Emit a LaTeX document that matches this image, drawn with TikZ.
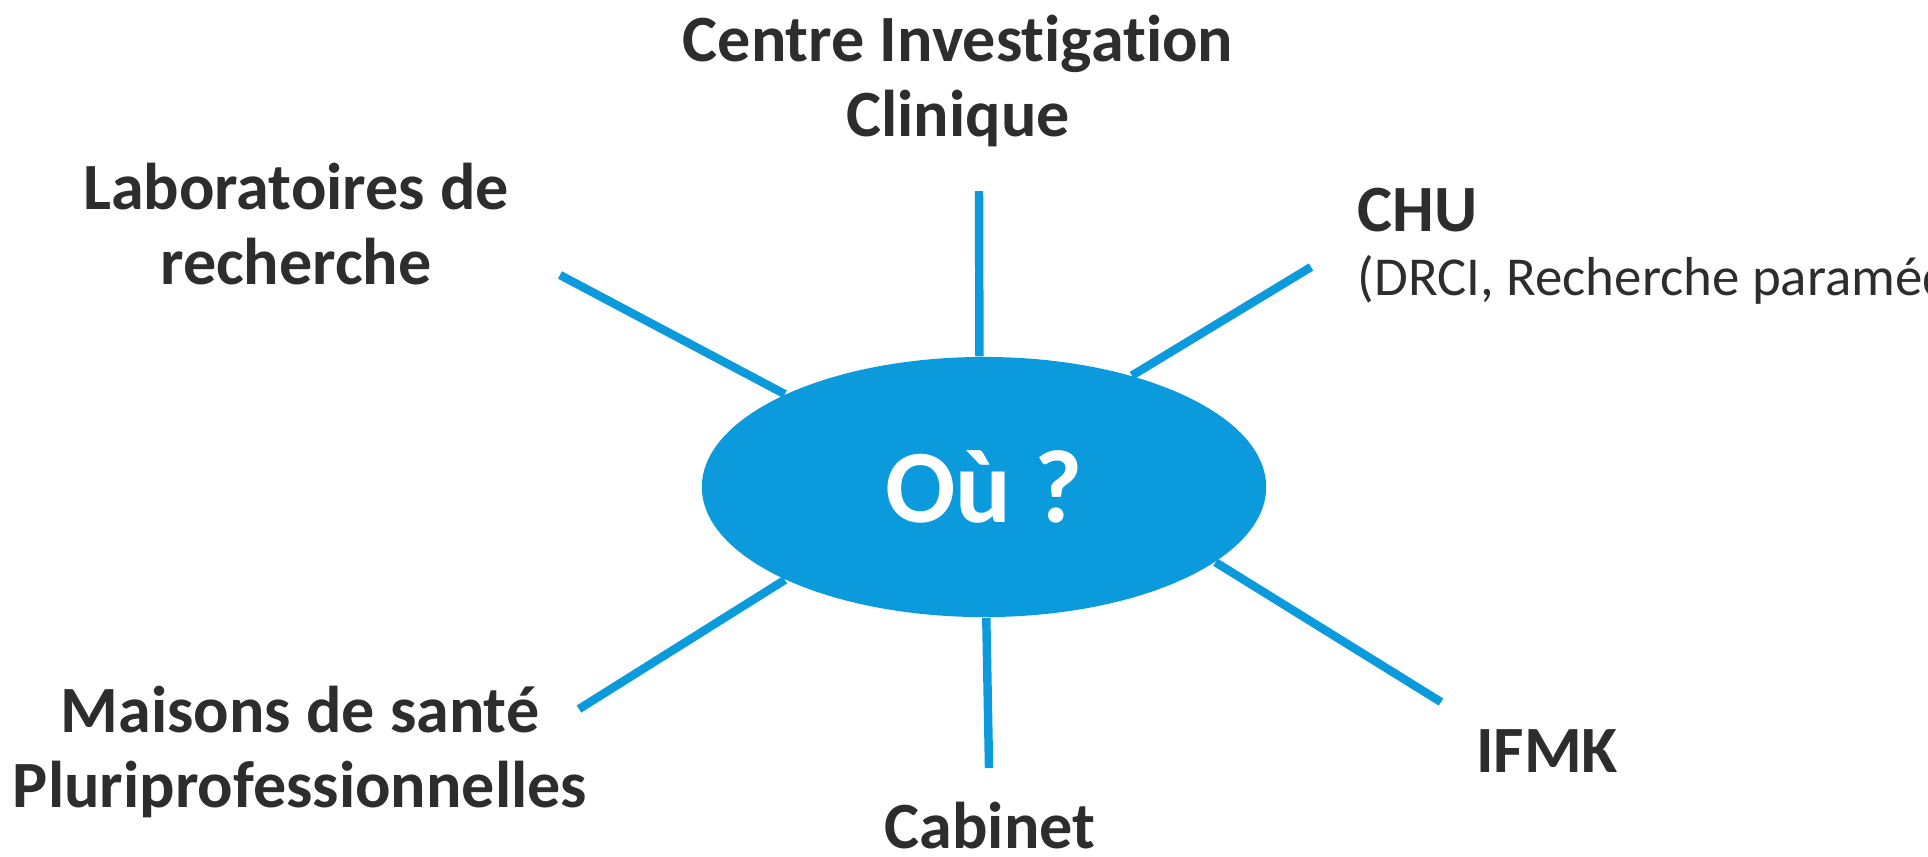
\documentclass[tikz,border=0pt]{standalone}
\usepackage{fontspec}
\setmainfont[Ligatures=NoCommon]{Carlito}
\usetikzlibrary{shapes.geometric, positioning}
\definecolor{bleuou}{HTML}{0B9BDD}
\definecolor{gristexte}{HTML}{2D2D2D}

\begin{document}
\begin{tikzpicture}
        [x=0.01cm, y=-0.01cm,
        rayon/.style={line width=2.4pt, bleuou},
        lieu/.style={align=center, anchor=base, text=gristexte, inner sep=0pt,
            font=\bfseries\fontsize{18.8}{21.3}\selectfont}]
        %cadre
            \clip (0,0) rectangle (1928,856);
        %ellisse centrale
            \node[ellipse, fill=bleuou, minimum width=5.64cm, minimum height=2.60cm,
                inner sep=0pt, text=white, font=\bfseries\fontsize{29.6}{32}\selectfont]
                (ou) at (984,487) {Où ?};
        %estremita dei raggi
            \coordinate (cicfin) at (979,191);
            \coordinate (labofin) at (560,275);
            \coordinate (chufin) at (1311,267);
            \coordinate (ifmkfin) at (1441,702);
            \coordinate (cabfin) at (989,768);
            \coordinate (mspfin) at (579,709);
        %raggi
            \draw[rayon] (ou.92) -- (cicfin);
            \draw[rayon] (ou.155) -- (labofin);
            \draw[rayon] (ou.37.5) -- (chufin);
            \draw[rayon] (ou.-18) -- (ifmkfin);
            \draw[rayon] (ou.-89) -- (cabfin);
            \draw[rayon] (ou.205) -- (mspfin);
        %etichette (base = ultima riga)
            \node[lieu] (cic) at (958,136) {Centre Investigation\\Clinique};
            \node[lieu] (labo) at (296,284) {Laboratoires de\\recherche};
            \node[lieu, anchor=base west] (chu) at (1357,231) {CHU};
            \node[lieu, anchor=base west, font=\fontsize{15.6}{18}\selectfont]
                (drci) at (1357,295) {(DRCI, Recherche paramédicale)};
            \node[lieu] (msp) at (300,807) {Maisons de santé\\Pluriprofessionnelles};
            \node[lieu] (ifmk) at (1547,772) {IFMK};
            \node[lieu] (cab) at (990,848) {Cabinet};
    \end{tikzpicture}
\end{document}
